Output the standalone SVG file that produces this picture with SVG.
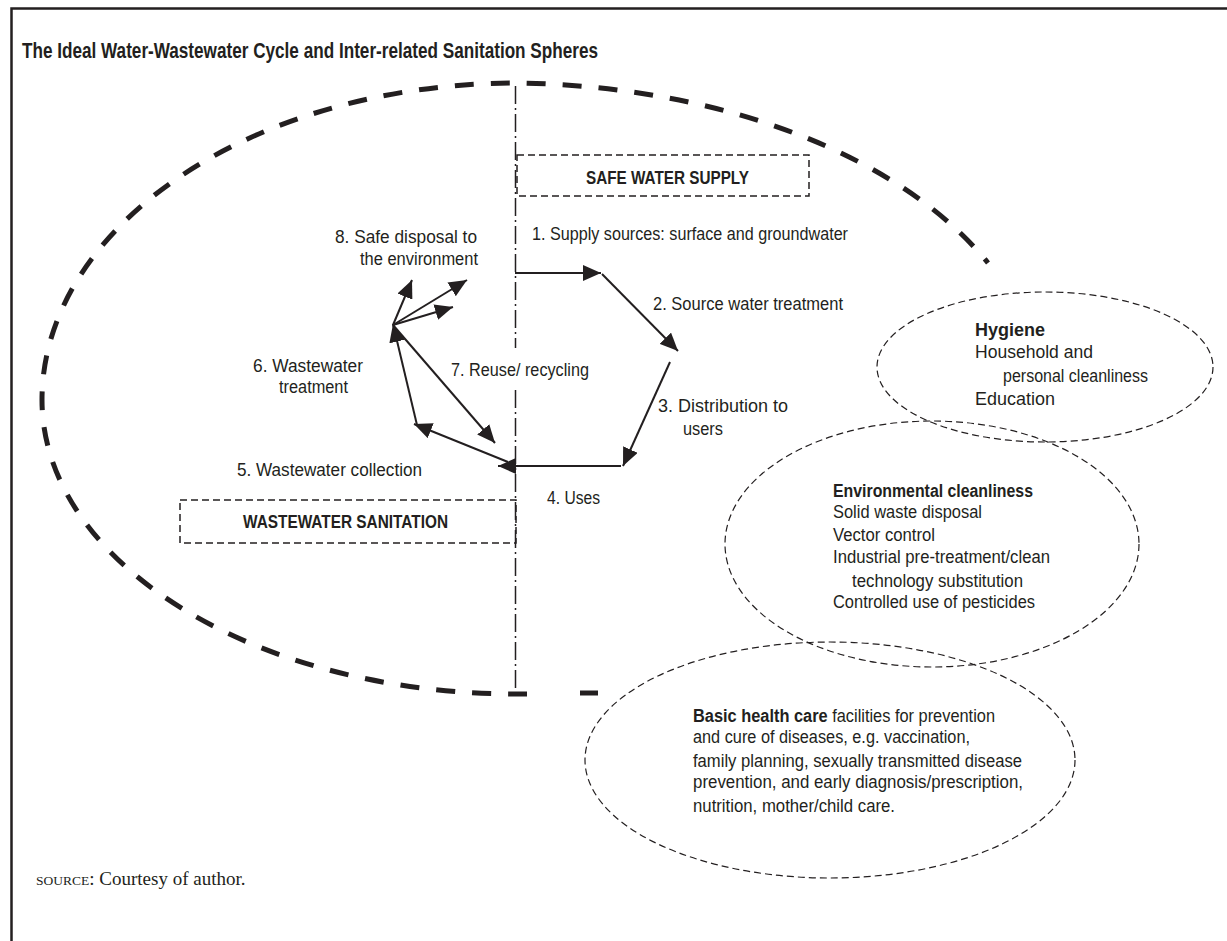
<svg xmlns="http://www.w3.org/2000/svg" width="1227" height="941" viewBox="0 0 1227 941">
<style>
.lbl{font-family:"Liberation Sans Narrow","Arial Narrow","Liberation Sans",Arial,sans-serif;font-size:17.5px;fill:#231f20}
.b{font-weight:bold}
.title{font-family:"Liberation Sans Narrow","Arial Narrow","Liberation Sans",Arial,sans-serif;font-size:22px;font-weight:bold;fill:#231f20}
.src{font-family:"Liberation Serif","Times New Roman",serif;font-size:19px;fill:#231f20}
.big{fill:none;stroke:#231f20;stroke-width:5;stroke-dasharray:19 17}
.sphere{fill:none;stroke:#231f20;stroke-width:1.2;stroke-dasharray:7 4}
.box{fill:none;stroke:#231f20;stroke-width:1.5;stroke-dasharray:7 4}
.axis{fill:none;stroke:#231f20;stroke-width:1.5;stroke-dasharray:18 4 2 4}
.arr{fill:none;stroke:#231f20;stroke-width:2;marker-end:url(#ah)}
</style>
<defs>
<marker id="ah" markerUnits="userSpaceOnUse" markerWidth="20" markerHeight="16" refX="18" refY="8" orient="auto">
<path d="M0,0 L18,8 L0,16 z" fill="#231f20"/>
</marker>
</defs>
<rect width="1227" height="941" fill="#fff"/>
<g id="frame">
<path d="M11.5 941 V8.5 H1227" fill="none" stroke="#231f20" stroke-width="2.5"/>
</g>
<text id="title" class="title" x="22" y="58" textLength="576" lengthAdjust="spacingAndGlyphs">The Ideal Water-Wastewater Cycle and Inter-related Sanitation Spheres</text>

<g id="outer-cycle">
<path class="big" d="M527 694 L517 694 A475 294 0 0 1 42 400 A475 317 0 0 1 517 83 A535 317 0 0 1 988 263"/>
<line x1="580" y1="693" x2="598" y2="693" stroke="#231f20" stroke-width="5"/>
</g>

<g id="axis">
<line class="axis" x1="515.5" y1="86" x2="515.5" y2="348"/>
<line class="axis" x1="515.5" y1="390" x2="515.5" y2="692"/>
</g>

<g id="safe-water-supply">
<rect class="box" x="517" y="155" width="292" height="41"/>
<text class="lbl b" x="586" y="184" textLength="163" lengthAdjust="spacingAndGlyphs">SAFE WATER SUPPLY</text>
</g>
<g id="wastewater-sanitation">
<rect class="box" x="180" y="500" width="336" height="43"/>
<text class="lbl b" x="243" y="528" textLength="205" lengthAdjust="spacingAndGlyphs">WASTEWATER SANITATION</text>
</g>

<g id="connectors">
<line class="arr" x1="515" y1="273" x2="601" y2="273"/>
<line class="arr" x1="602" y1="274" x2="678" y2="351"/>
<line class="arr" x1="670" y1="362" x2="623" y2="466"/>
<line class="arr" x1="621" y1="466" x2="498" y2="466"/>
<line class="arr" x1="508" y1="462" x2="414" y2="424"/>
<line class="arr" x1="417" y1="425" x2="393" y2="324"/>
<line class="arr" x1="393" y1="325" x2="495" y2="443"/>
<line class="arr" x1="393" y1="325" x2="412" y2="280"/>
<line class="arr" x1="393" y1="325" x2="467" y2="280"/>
<line class="arr" x1="393" y1="325" x2="453" y2="307"/>
</g>

<g id="step1"><text class="lbl" x="532" y="240" textLength="316" lengthAdjust="spacingAndGlyphs">1. Supply sources: surface and groundwater</text></g>
<g id="step2"><text class="lbl" x="653" y="310" textLength="190" lengthAdjust="spacingAndGlyphs">2. Source water treatment</text></g>
<g id="step3"><text class="lbl" x="658" y="412" textLength="130" lengthAdjust="spacingAndGlyphs">3.  Distribution to</text>
<text class="lbl" x="683" y="435" textLength="40" lengthAdjust="spacingAndGlyphs">users</text></g>
<g id="step4"><text class="lbl" x="547" y="504" textLength="53" lengthAdjust="spacingAndGlyphs">4. Uses</text></g>
<g id="step5"><text class="lbl" x="237" y="476" textLength="185" lengthAdjust="spacingAndGlyphs">5.  Wastewater collection</text></g>
<g id="step6"><text class="lbl" x="253" y="372" textLength="110" lengthAdjust="spacingAndGlyphs">6.  Wastewater</text>
<text class="lbl" x="279" y="393" textLength="69" lengthAdjust="spacingAndGlyphs">treatment</text></g>
<g id="step7"><text class="lbl" x="451" y="376" textLength="138" lengthAdjust="spacingAndGlyphs">7. Reuse/ recycling</text></g>
<g id="step8"><text class="lbl" x="335" y="243" textLength="142" lengthAdjust="spacingAndGlyphs">8.  Safe disposal to</text>
<text class="lbl" x="360" y="265" textLength="118" lengthAdjust="spacingAndGlyphs">the environment</text></g>

<g id="hygiene">
<ellipse class="sphere" cx="1045" cy="367" rx="168" ry="75"/>
<text class="lbl b" x="975" y="336" textLength="70" lengthAdjust="spacingAndGlyphs">Hygiene</text>
<text class="lbl" x="975" y="358" textLength="118" lengthAdjust="spacingAndGlyphs">Household and</text>
<text class="lbl" x="1003" y="382" textLength="145" lengthAdjust="spacingAndGlyphs">personal cleanliness</text>
<text class="lbl" x="975" y="405" textLength="80" lengthAdjust="spacingAndGlyphs">Education</text>
</g>

<g id="environmental">
<ellipse class="sphere" cx="932" cy="544" rx="207" ry="123"/>
<text class="lbl b" x="833" y="497" textLength="200" lengthAdjust="spacingAndGlyphs">Environmental cleanliness</text>
<text class="lbl" x="833" y="518" textLength="149" lengthAdjust="spacingAndGlyphs">Solid waste disposal</text>
<text class="lbl" x="833" y="541" textLength="102" lengthAdjust="spacingAndGlyphs">Vector control</text>
<text class="lbl" x="833" y="563" textLength="217" lengthAdjust="spacingAndGlyphs">Industrial pre-treatment/clean</text>
<text class="lbl" x="852" y="587" textLength="171" lengthAdjust="spacingAndGlyphs">technology substitution</text>
<text class="lbl" x="833" y="608" textLength="202" lengthAdjust="spacingAndGlyphs">Controlled use of pesticides</text>
</g>

<g id="health">
<ellipse class="sphere" cx="830" cy="760" rx="245" ry="118"/>
<text class="lbl" x="693" y="722" textLength="302" lengthAdjust="spacingAndGlyphs"><tspan class="b">Basic health care</tspan> facilities for prevention</text>
<text class="lbl" x="693" y="743" textLength="277" lengthAdjust="spacingAndGlyphs">and cure of diseases, e.g. vaccination,</text>
<text class="lbl" x="693" y="767" textLength="329" lengthAdjust="spacingAndGlyphs">family planning, sexually transmitted disease</text>
<text class="lbl" x="693" y="788" textLength="330" lengthAdjust="spacingAndGlyphs">prevention, and early diagnosis/prescription,</text>
<text class="lbl" x="693" y="812" textLength="202" lengthAdjust="spacingAndGlyphs">nutrition, mother/child care.</text>
</g>

<text id="source" class="src" x="36" y="885"><tspan font-size="13.5">SOURCE</tspan>: Courtesy of author.</text>
</svg>
